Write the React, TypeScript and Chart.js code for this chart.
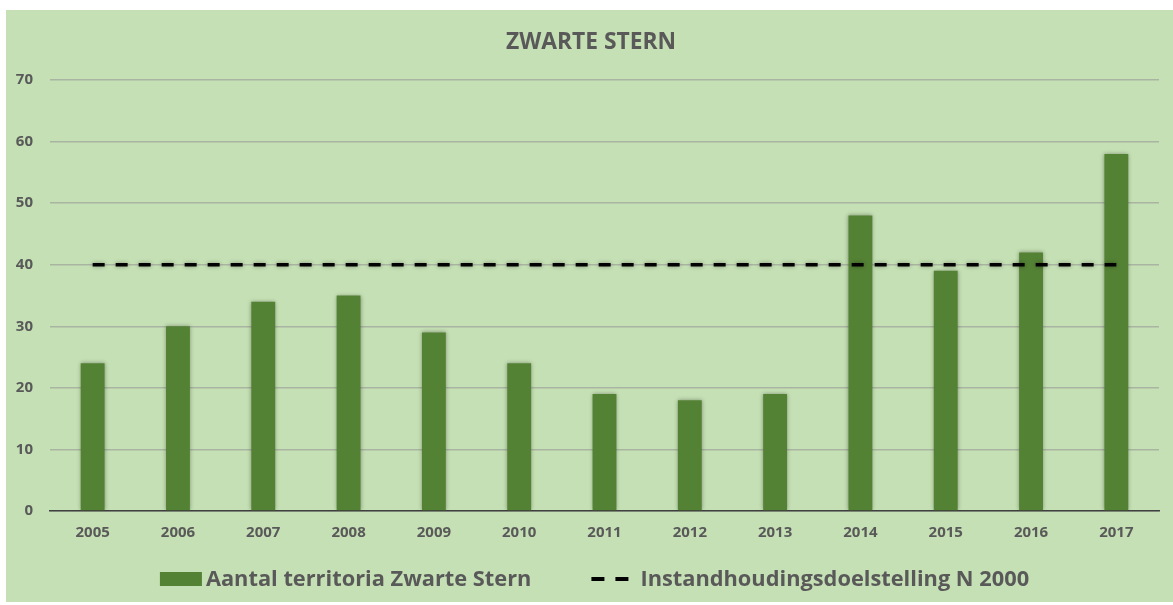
import React, { useEffect, useRef } from 'react';
import { Chart, registerables } from 'chart.js';

Chart.register(...registerables);

const years = ['2005', '2006', '2007', '2008', '2009', '2010', '2011', '2012', '2013', '2014', '2015', '2016', '2017'];
const territories = [24, 30, 34, 35, 29, 24, 19, 18, 19, 48, 39, 42, 58];
const target = [40, 40, 40, 40, 40, 40, 40, 40, 40, 40, 40, 40, 40];
const yMax = 70;
const yStep = 10;
const titleText = 'ZWARTE STERN';
const barLabel = 'Aantal territoria Zwarte Stern';
const lineLabel = 'Instandhoudingsdoelstelling N 2000';

const FONT = '"Open Sans", Lato, sans-serif';
const TEXT = '#595959';
const BAR = '#548235';

const shadowPlugin = {
  id: 'shadow',
  beforeDatasetDraw(chart: any) {
    const ctx = chart.ctx;
    ctx.save();
    ctx.shadowColor = 'rgba(0,0,0,0.35)';
    ctx.shadowBlur = 4;
    ctx.shadowOffsetX = 0;
    ctx.shadowOffsetY = 0;
  },
  afterDatasetDraw(chart: any) {
    chart.ctx.restore();
  },
};

const titleLegendPlugin = {
  id: 'titleLegend',
  afterDraw(chart: any) {
    const ctx = chart.ctx;
    const ds = chart.data.datasets;
    ctx.save();
    // title
    ctx.font = `bold 22.8px ${FONT}`;
    ctx.textBaseline = 'middle';
    ctx.textAlign = 'center';
    ctx.fillStyle = TEXT;
    ctx.fillText(titleText, 585, 33);
    // legend
    ctx.font = `bold 21.8px ${FONT}`;
    ctx.textAlign = 'left';
    const t1 = ds[0].label as string;
    const t2 = ds[1].label as string;
    const w1 = ctx.measureText(t1).width;
    const w2 = ctx.measureText(t2).width;
    const total = 42 + 4 + w1 + 60 + 37 + 12 + w2;
    let x = (chart.width - total) / 2 + 5;
    const y = 569;
    ctx.fillStyle = ds[0].backgroundColor;
    ctx.fillRect(x, y - 7, 42, 14);
    x += 46;
    ctx.fillStyle = TEXT;
    ctx.fillText(t1, x, y + 1);
    x += w1 + 60;
    ctx.fillStyle = ds[1].borderColor;
    ctx.fillRect(x, y - 2, 13, 4);
    ctx.fillRect(x + 24, y - 2, 13, 4);
    x += 37 + 12;
    ctx.fillStyle = TEXT;
    ctx.fillText(t2, x, y + 1);
    ctx.restore();
  },
};

export default function App() {
  const ref = useRef<HTMLCanvasElement>(null);
  useEffect(() => {
    if (!ref.current) return;
    const chart = new Chart(ref.current, {
      data: {
        labels: years,
        datasets: [
          {
            type: 'bar',
            label: barLabel,
            data: territories,
            backgroundColor: BAR,
            borderWidth: 0,
            barPercentage: 0.56,
            categoryPercentage: 0.5,
            order: 1,
          },
          {
            type: 'line',
            label: lineLabel,
            data: target,
            borderColor: '#000000',
            borderWidth: 3.5,
            borderDash: [12, 11],
            pointRadius: 0,
            fill: false,
            order: 0,
          },
        ],
      } as any,
      plugins: [shadowPlugin, titleLegendPlugin],
      options: {
        animation: false,
        responsive: true,
        maintainAspectRatio: false,
        layout: { padding: { left: 0, right: 14, top: 70, bottom: 51 } },
        plugins: {
          title: { display: false },
          legend: { display: false },
          tooltip: { enabled: false },
        },
        scales: {
          x: {
            grid: { display: false, drawTicks: false },
            border: { display: true, color: '#404040', width: 1.5 },
            ticks: {
              color: TEXT,
              font: { family: FONT, size: 15, weight: 'bold' },
              padding: 13,
            },
            afterFit: (scale: any) => {
              scale.height = 40;
            },
          },
          y: {
            min: 0,
            max: yMax,
            grid: { color: '#a9b5a2', lineWidth: 1.5, drawTicks: false },
            border: { display: false },
            ticks: {
              stepSize: yStep,
              color: TEXT,
              font: { family: FONT, size: 15, weight: 'bold' },
              padding: 17,
            },
            afterFit: (scale: any) => {
              scale.width = 44;
            },
          },
        },
      } as any,
    });
    return () => chart.destroy();
  }, []);
  return (
    <div
      style={{
        position: 'absolute',
        left: 6,
        top: 10,
        width: 1167,
        height: 592,
        background: '#c5e0b4',
      }}
    >
      <canvas ref={ref} />
    </div>
  );
}
